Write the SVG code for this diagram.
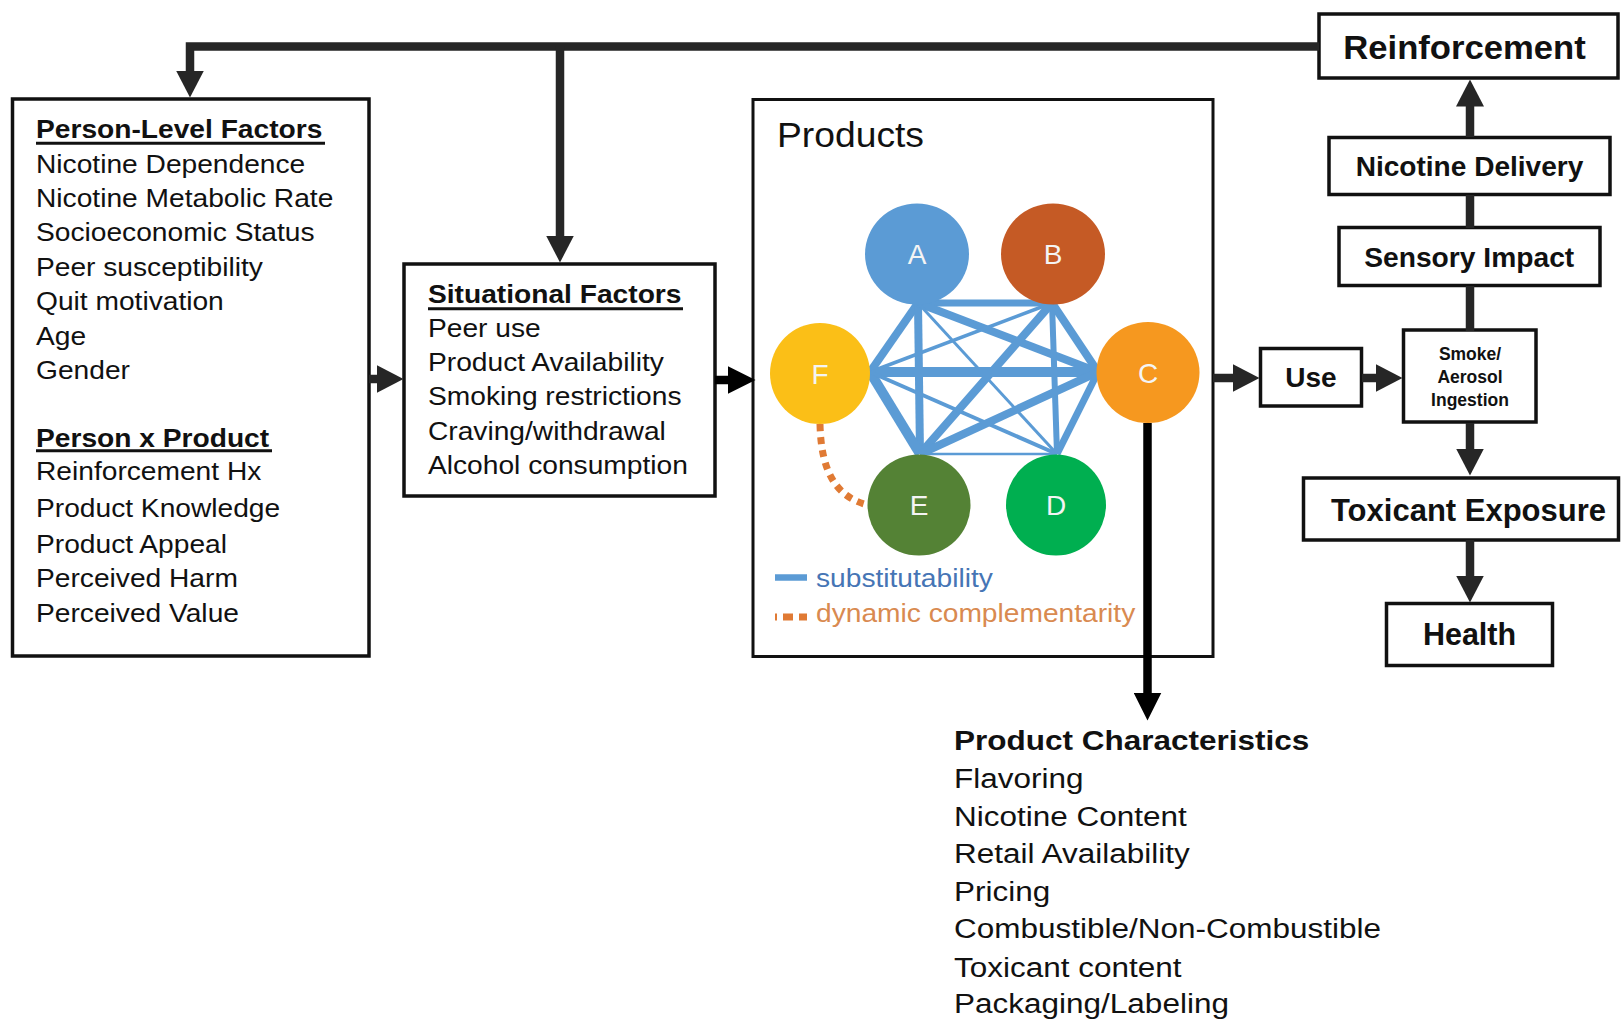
<svg xmlns="http://www.w3.org/2000/svg" width="1621" height="1022" viewBox="0 0 1621 1022">
<defs>
<style>
text{font-family:"Liberation Sans",Arial,Helvetica,sans-serif;fill:#111;}
.t{font-size:25.6px;}
.hd{font-size:25.6px;font-weight:bold;}
.box{fill:#fff;stroke:#111;stroke-width:3.5;}
.rb{font-weight:bold;text-anchor:middle;}
.ul{stroke:#111;stroke-width:3;}
.conn{fill:none;stroke:#262626;stroke-width:8.5;stroke-linejoin:miter;}
.connk{fill:none;stroke:#000;stroke-width:8.5;}
.sub{stroke:#5B9BD5;fill:none;}
.lt{font-size:28px;fill:#F4F4F4;text-anchor:middle;}
</style>
<marker id="ah" markerUnits="userSpaceOnUse" markerWidth="27" markerHeight="28" viewBox="0 0 27 28" refX="0.5" refY="14" orient="auto"><path d="M0,0 L27,14 L0,28 Z" fill="#262626"/></marker>
<marker id="ahk" markerUnits="userSpaceOnUse" markerWidth="28" markerHeight="28" viewBox="0 0 28 28" refX="0.5" refY="14" orient="auto"><path d="M0,0 L28,14 L0,28 Z" fill="#000"/></marker>
</defs>
<rect x="0" y="0" width="1621" height="1022" fill="#fff"/>

<g id="person-factors">
<rect class="box" x="12.5" y="99" width="356.5" height="557"/>
<g transform="translate(36 0) scale(1.1 1)">
<text class="hd" x="0" y="138.5">Person-Level Factors</text>
<text class="t" x="0" y="172.8">Nicotine Dependence</text>
<text class="t" x="0" y="207">Nicotine Metabolic Rate</text>
<text class="t" x="0" y="241.5">Socioeconomic Status</text>
<text class="t" x="0" y="276">Peer susceptibility</text>
<text class="t" x="0" y="310.3">Quit motivation</text>
<text class="t" x="0" y="344.6">Age</text>
<text class="t" x="0" y="379">Gender</text>
<text class="hd" x="0" y="446.7">Person x Product</text>
<text class="t" x="0" y="480.5">Reinforcement Hx</text>
<text class="t" x="0" y="517">Product Knowledge</text>
<text class="t" x="0" y="553">Product Appeal</text>
<text class="t" x="0" y="587">Perceived Harm</text>
<text class="t" x="0" y="621.7">Perceived Value</text>
</g>
<line class="ul" x1="36" y1="143.3" x2="325" y2="143.3"/>
<line class="ul" x1="36" y1="450.7" x2="272" y2="450.7"/>
</g>

<g id="situational-factors">
<rect class="box" x="404" y="264" width="311" height="232"/>
<g transform="translate(428 0) scale(1.1 1)">
<text class="hd" x="0" y="303.3">Situational Factors</text>
<text class="t" x="0" y="337.3">Peer use</text>
<text class="t" x="0" y="370.7">Product Availability</text>
<text class="t" x="0" y="405.3">Smoking restrictions</text>
<text class="t" x="0" y="440">Craving/withdrawal</text>
<text class="t" x="0" y="474">Alcohol consumption</text>
</g>
<line class="ul" x1="428" y1="308.7" x2="683" y2="308.7"/>
</g>

<g id="products">
<rect class="box" x="753" y="99.5" width="460" height="557" style="stroke-width:3"/>
<text transform="translate(777 147.3) scale(1.08 1)" x="0" y="0" style="font-size:34.5px">Products</text>
<g id="product-links">
<line class="sub" x1="918" y1="303" x2="1052" y2="303" stroke-width="7"/>
<line class="sub" x1="918" y1="303" x2="870" y2="372" stroke-width="8"/>
<line class="sub" x1="918" y1="303" x2="920" y2="454" stroke-width="8"/>
<line class="sub" x1="918" y1="303" x2="1098" y2="372" stroke-width="8"/>
<line class="sub" x1="918" y1="303" x2="1057" y2="454" stroke-width="3"/>
<line class="sub" x1="1052" y1="303" x2="870" y2="372" stroke-width="3.5"/>
<line class="sub" x1="1052" y1="303" x2="1098" y2="372" stroke-width="8"/>
<line class="sub" x1="1052" y1="303" x2="1057" y2="454" stroke-width="6"/>
<line class="sub" x1="1052" y1="303" x2="920" y2="454" stroke-width="8"/>
<line class="sub" x1="870" y1="372" x2="1098" y2="372" stroke-width="10"/>
<line class="sub" x1="870" y1="372" x2="920" y2="454" stroke-width="10"/>
<line class="sub" x1="870" y1="372" x2="1057" y2="454" stroke-width="4"/>
<line class="sub" x1="1098" y1="372" x2="920" y2="454" stroke-width="8"/>
<line class="sub" x1="1098" y1="372" x2="1057" y2="454" stroke-width="7"/>
<line class="sub" x1="920" y1="454" x2="1057" y2="454" stroke-width="2.5"/>
</g>
<path id="complementarity-link" d="M820,424 C821,470 835,497 868,505" fill="none" stroke="#E07A34" stroke-width="7" stroke-dasharray="7 6"/>
<g id="product-A"><ellipse cx="917" cy="254" rx="52" ry="50.5" fill="#5B9BD5"/><text class="lt" x="917" y="264">A</text></g>
<g id="product-B"><ellipse cx="1053" cy="254" rx="52" ry="50.5" fill="#C55A25"/><text class="lt" x="1053" y="264">B</text></g>
<g id="product-C"><ellipse cx="1148" cy="372.5" rx="51.5" ry="50.5" fill="#F6981F"/><text class="lt" x="1148" y="382.5">C</text></g>
<g id="product-D"><ellipse cx="1056" cy="505" rx="50" ry="50.5" fill="#00AF50"/><text class="lt" x="1056" y="515">D</text></g>
<g id="product-E"><ellipse cx="919" cy="505" rx="51.5" ry="50.5" fill="#548235"/><text class="lt" x="919" y="515">E</text></g>
<g id="product-F"><ellipse cx="820" cy="373.5" rx="50" ry="50.5" fill="#FBBF17"/><text class="lt" x="820" y="383.5">F</text></g>
<g id="legend">
<line x1="775" y1="577.5" x2="807" y2="577.5" stroke="#5B9BD5" stroke-width="6.5"/>
<text transform="translate(816 587) scale(1.1 1)" x="0" y="0" class="t" style="fill:#4675B5">substitutability</text>
<line x1="775" y1="617" x2="807" y2="617" stroke="#E07A34" stroke-width="7" stroke-dasharray="2 6 10 6 9 10"/>
<text transform="translate(816 622) scale(1.1 1)" x="0" y="0" class="t" style="fill:#D98A50">dynamic complementarity</text>
</g>
</g>

<g id="reinforcement">
<rect class="box" x="1319" y="14" width="299" height="64"/>
<text class="rb" transform="translate(1464.5 58.5) scale(1.05 1)" x="0" y="0" style="font-size:33px">Reinforcement</text>
</g>
<g id="nicotine-delivery">
<rect class="box" x="1329" y="137.5" width="281" height="57"/>
<text class="rb" transform="translate(1469.5 176) scale(1.04 1)" x="0" y="0" style="font-size:27px">Nicotine Delivery</text>
</g>
<g id="sensory-impact">
<rect class="box" x="1339" y="227.5" width="261" height="58"/>
<text class="rb" transform="translate(1469.2 266.7) scale(1.045 1)" x="0" y="0" style="font-size:27px">Sensory Impact</text>
</g>
<g id="use">
<rect class="box" x="1260.5" y="348.5" width="101" height="57.5"/>
<text class="rb" x="1311" y="387.3" style="font-size:28px">Use</text>
</g>
<g id="smoke-aerosol-ingestion">
<rect class="box" x="1403.5" y="330" width="132.5" height="92"/>
<text class="rb" x="1470" y="360" style="font-size:17.5px">Smoke/</text>
<text class="rb" x="1470" y="383.3" style="font-size:17.5px">Aerosol</text>
<text class="rb" x="1470" y="406" style="font-size:17.5px">Ingestion</text>
</g>
<g id="toxicant-exposure">
<rect class="box" x="1303.5" y="478" width="315" height="62"/>
<text class="rb" x="1468.5" y="520.7" style="font-size:31px">Toxicant Exposure</text>
</g>
<g id="health">
<rect class="box" x="1386.5" y="603.5" width="166" height="62"/>
<text class="rb" x="1469.5" y="645" style="font-size:30.5px">Health</text>
</g>

<g id="product-characteristics" transform="translate(954 0) scale(1.125 1)">
<text x="0" y="750" style="font-size:28px;font-weight:bold">Product Characteristics</text>
<text x="0" y="788.3" style="font-size:28px">Flavoring</text>
<text x="0" y="826" style="font-size:28px">Nicotine Content</text>
<text x="0" y="863.3" style="font-size:28px">Retail Availability</text>
<text x="0" y="900.7" style="font-size:28px">Pricing</text>
<text x="0" y="938.3" style="font-size:28px">Combustible/Non-Combustible</text>
<text x="0" y="976.7" style="font-size:28px">Toxicant content</text>
<text x="0" y="1013.3" style="font-size:28px">Packaging/Labeling</text>
</g>

<g id="connectors">
<path class="conn" d="M1319,46.5 H190 V71" marker-end="url(#ah)"/>
<path class="conn" d="M560,46.5 V236" marker-end="url(#ah)"/>
<path class="conn" d="M369,379 H377" marker-end="url(#ah)"/>
<path class="connk" d="M715,380 H728" marker-end="url(#ahk)"/>
<path class="conn" d="M1213,378 H1233" marker-end="url(#ah)"/>
<path class="conn" d="M1362,378 H1376" marker-end="url(#ah)"/>
<path class="conn" d="M1470,137 V106" marker-end="url(#ah)"/>
<path class="conn" d="M1470,195 V228"/>
<path class="conn" d="M1470,286 V331"/>
<path class="conn" d="M1470,423 V449" marker-end="url(#ah)"/>
<path class="conn" d="M1470,540 V576" marker-end="url(#ah)"/>
<path class="connk" d="M1147.5,423 V693" marker-end="url(#ahk)"/>
</g>
</svg>
